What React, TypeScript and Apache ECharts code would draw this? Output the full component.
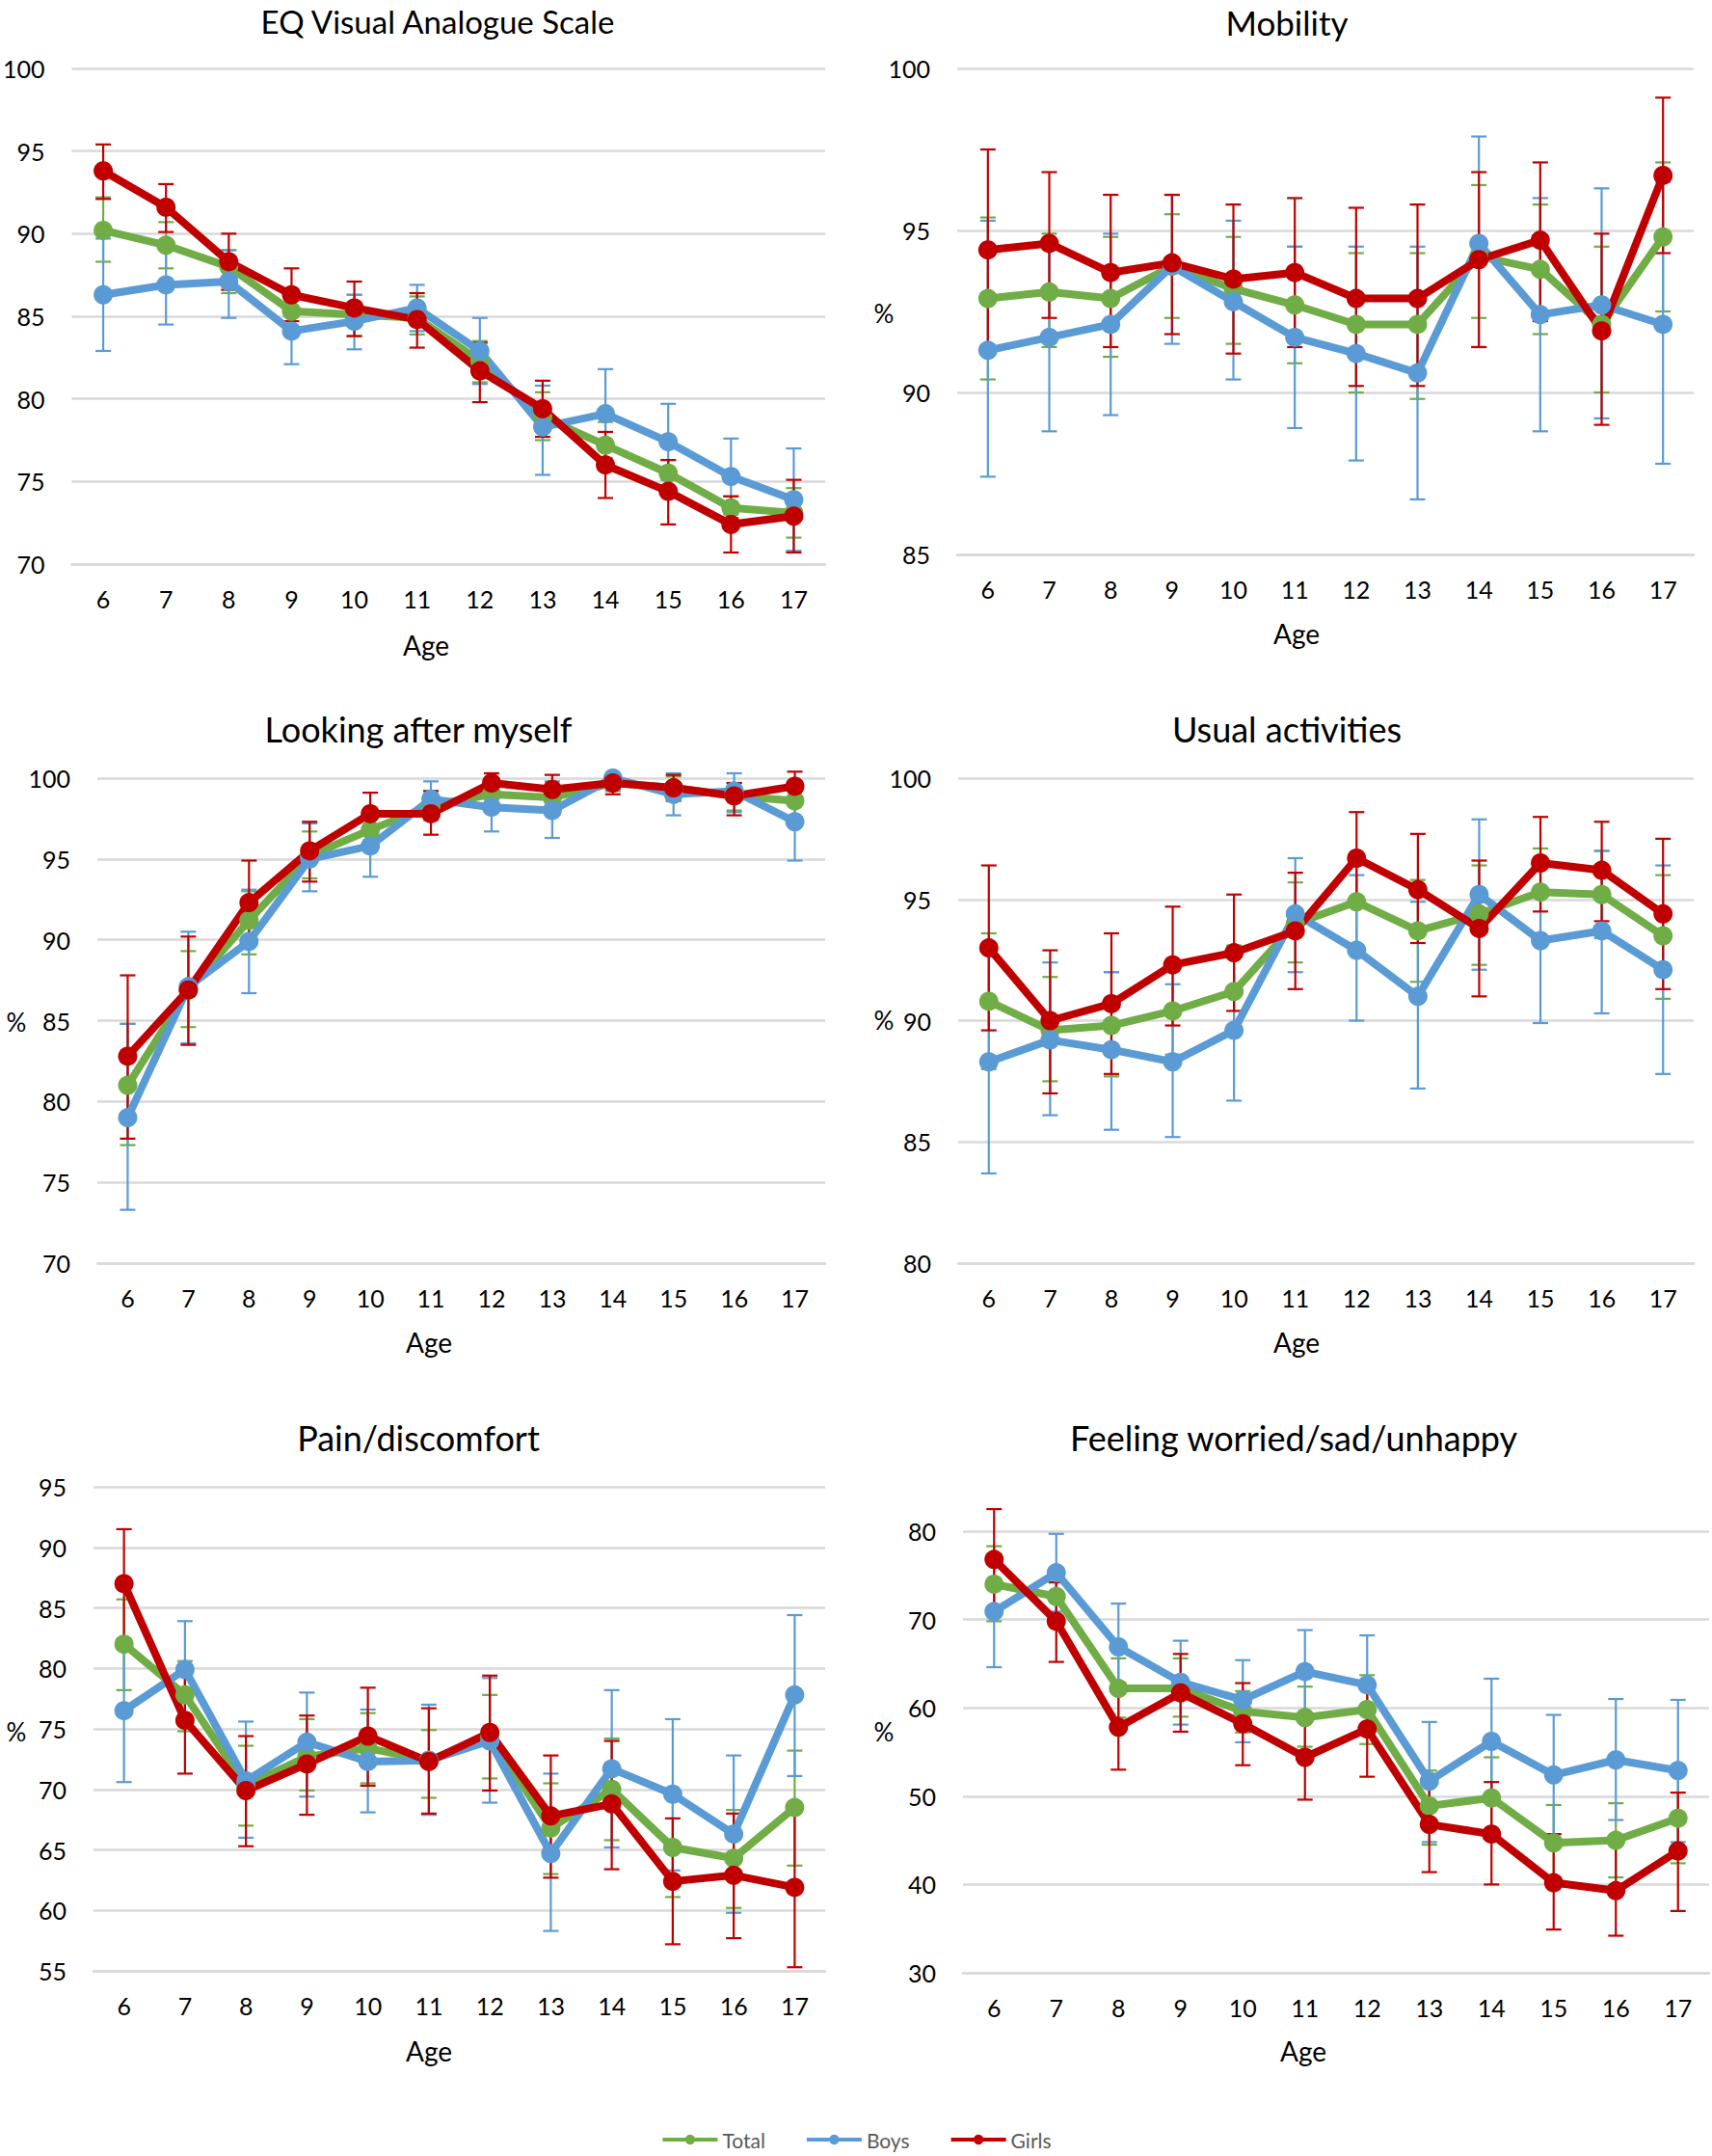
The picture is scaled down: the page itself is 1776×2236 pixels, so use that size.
import React, { useEffect, useRef } from "react";
import * as echarts from "echarts";

const ages = ["6", "7", "8", "9", "10", "11", "12", "13", "14", "15", "16", "17"];
const seriesNames = ["Total", "Boys", "Girls"];
const seriesColors = ["#70AD47", "#5B9BD5", "#C00000"];

// EQ Visual Analogue Scale
const eqTotal = [90.2, 89.3, 88.0, 85.3, 85.1, 84.9, 82.3, 78.9, 77.2, 75.5, 73.4, 73.1];
const eqTotalLo = [88.3, 87.9, 86.4, 84.0, 83.8, 83.9, 81.0, 77.5, 75.8, 74.6, 72.8, 71.6];
const eqTotalHi = [92.2, 90.7, 89.0, 86.6, 86.3, 86.2, 83.5, 80.4, 78.6, 76.3, 74.1, 74.6];
const eqBoys = [86.3, 86.9, 87.1, 84.1, 84.7, 85.5, 82.9, 78.3, 79.1, 77.4, 75.3, 73.9];
const eqBoysLo = [82.9, 84.5, 84.9, 82.1, 83.0, 84.1, 80.9, 75.4, 76.4, 75.1, 73.0, 70.8];
const eqBoysHi = [89.7, 89.3, 89.0, 86.1, 86.3, 86.9, 84.9, 80.8, 81.8, 79.7, 77.6, 77.0];
const eqGirls = [93.8, 91.6, 88.3, 86.3, 85.5, 84.8, 81.7, 79.4, 76.0, 74.4, 72.4, 72.9];
const eqGirlsLo = [92.1, 90.1, 86.6, 84.7, 83.8, 83.1, 79.8, 77.7, 74.0, 72.4, 70.7, 70.7];
const eqGirlsHi = [95.4, 93.0, 90.0, 87.9, 87.1, 86.4, 83.4, 81.1, 78.0, 76.3, 74.1, 75.1];

// Mobility
const mobTotal = [92.9, 93.1, 92.9, 93.9, 93.2, 92.7, 92.1, 92.1, 94.2, 93.8, 92.1, 94.8];
const mobTotalLo = [90.4, 91.4, 91.1, 92.3, 91.5, 90.9, 90.0, 89.8, 92.3, 91.8, 90.0, 92.5];
const mobTotalHi = [95.4, 94.9, 94.8, 95.5, 94.8, 94.5, 94.3, 94.3, 96.4, 95.8, 94.5, 97.1];
const mobBoys = [91.3, 91.7, 92.1, 93.9, 92.8, 91.7, 91.2, 90.6, 94.6, 92.4, 92.7, 92.1];
const mobBoysLo = [87.4, 88.8, 89.3, 91.5, 90.4, 88.9, 87.9, 86.7, 91.4, 88.8, 89.2, 87.8];
const mobBoysHi = [95.3, 94.5, 94.9, 96.1, 95.3, 94.5, 94.5, 94.5, 97.9, 96.0, 96.3, 96.5];
const mobGirls = [94.4, 94.6, 93.7, 94.0, 93.5, 93.7, 92.9, 92.9, 94.1, 94.7, 91.9, 96.7];
const mobGirlsLo = [91.3, 92.3, 91.4, 91.8, 91.2, 91.4, 90.2, 90.2, 91.4, 92.2, 89.0, 94.3];
const mobGirlsHi = [97.5, 96.8, 96.1, 96.1, 95.8, 96.0, 95.7, 95.8, 96.8, 97.1, 94.9, 99.1];

// Looking after myself
const lookTotal = [81.0, 86.9, 91.2, 95.2, 96.8, 98.3, 99.0, 98.8, 99.7, 99.4, 98.9, 98.6];
const lookTotalLo = [77.3, 84.6, 89.1, 93.8, 95.7, 97.4, 98.5, 98.1, 99.3, 98.8, 98.0, 97.6];
const lookTotalHi = [84.8, 89.3, 93.0, 96.7, 97.9, 99.2, 99.5, 99.5, 100.1, 100.1, 99.7, 99.5];
const lookBoys = [79.0, 87.1, 89.9, 95.0, 95.8, 98.7, 98.2, 98.0, 100.0, 99.0, 99.2, 97.3];
const lookBoysLo = [73.3, 83.6, 86.7, 93.0, 93.9, 97.5, 96.7, 96.3, 99.2, 97.7, 97.9, 94.9];
const lookBoysHi = [84.8, 90.5, 93.1, 97.2, 97.7, 99.8, 99.7, 99.8, 100.0, 100.3, 100.3, 99.8];
const lookGirls = [82.8, 86.9, 92.3, 95.5, 97.8, 97.8, 99.7, 99.3, 99.7, 99.4, 98.9, 99.5];
const lookGirlsLo = [77.7, 83.5, 89.7, 93.6, 96.5, 96.5, 99.1, 98.5, 99.0, 98.6, 97.7, 98.6];
const lookGirlsHi = [87.8, 90.2, 94.9, 97.3, 99.1, 99.2, 100.3, 100.2, 100.1, 100.2, 99.7, 100.4];

// Usual activities
const usTotal = [90.8, 89.6, 89.8, 90.4, 91.2, 94.0, 94.9, 93.7, 94.4, 95.3, 95.2, 93.5];
const usTotalLo = [88.0, 87.5, 87.7, 88.6, 89.4, 92.4, 93.1, 91.6, 92.3, 93.5, 93.4, 90.9];
const usTotalHi = [93.6, 91.8, 92.0, 92.3, 93.1, 95.7, 96.7, 95.8, 96.4, 97.1, 97.0, 96.0];
const usBoys = [88.3, 89.2, 88.8, 88.3, 89.6, 94.4, 92.9, 91.0, 95.2, 93.3, 93.7, 92.1];
const usBoysLo = [83.7, 86.1, 85.5, 85.2, 86.7, 92.0, 90.0, 87.2, 92.1, 89.9, 90.3, 87.8];
const usBoysHi = [92.9, 92.4, 92.0, 91.5, 93.0, 96.7, 96.0, 94.9, 98.3, 96.5, 97.0, 96.4];
const usGirls = [93.0, 90.0, 90.7, 92.3, 92.8, 93.7, 96.7, 95.4, 93.8, 96.5, 96.2, 94.4];
const usGirlsLo = [89.6, 87.0, 87.8, 89.8, 90.4, 91.3, 94.8, 93.2, 91.0, 94.5, 94.1, 91.3];
const usGirlsHi = [96.4, 92.9, 93.6, 94.7, 95.2, 96.1, 98.6, 97.7, 96.6, 98.4, 98.2, 97.5];

// Pain/discomfort
const painTotal = [82.0, 77.8, 70.3, 72.7, 73.4, 72.4, 74.4, 66.8, 70.0, 65.2, 64.3, 68.5];
const painTotalLo = [78.2, 74.8, 67.0, 69.9, 70.5, 69.3, 70.9, 63.0, 65.8, 61.1, 60.2, 63.7];
const painTotalHi = [85.7, 80.6, 73.6, 75.8, 76.3, 74.9, 77.8, 70.5, 74.2, 69.2, 68.3, 73.2];
const painBoys = [76.5, 79.9, 70.7, 73.9, 72.3, 72.4, 74.0, 64.7, 71.7, 69.6, 66.3, 77.8];
const painBoysLo = [70.6, 76.0, 66.0, 69.4, 68.1, 67.9, 68.9, 58.3, 65.2, 63.3, 59.8, 71.1];
const painBoysHi = [82.4, 83.9, 75.6, 78.0, 76.6, 77.0, 79.2, 71.3, 78.2, 75.8, 72.8, 84.4];
const painGirls = [87.0, 75.7, 69.9, 72.1, 74.4, 72.3, 74.7, 67.8, 68.8, 62.4, 62.9, 61.9];
const painGirlsLo = [82.4, 71.3, 65.3, 67.9, 70.3, 68.0, 69.9, 62.7, 63.4, 57.2, 57.7, 55.3];
const painGirlsHi = [91.5, 79.9, 74.4, 76.1, 78.4, 76.7, 79.4, 72.8, 74.0, 67.6, 68.0, 68.4];

// Feeling worried/sad/unhappy
const feelTotal = [74.0, 72.6, 62.2, 62.2, 59.6, 58.9, 59.8, 48.9, 49.8, 44.7, 45.0, 47.5];
const feelTotalLo = [69.8, 70.0, 58.9, 59.0, 57.2, 55.6, 55.9, 44.5, 45.2, 40.8, 40.8, 42.4];
const feelTotalHi = [78.3, 75.1, 65.6, 65.6, 61.9, 62.4, 63.7, 52.9, 54.4, 49.0, 49.2, 52.7];
const feelBoys = [70.9, 75.3, 66.9, 62.9, 60.9, 64.1, 62.6, 51.7, 56.2, 52.4, 54.1, 52.9];
const feelBoysLo = [64.6, 70.9, 61.9, 58.1, 56.1, 59.4, 57.2, 44.8, 49.4, 45.7, 47.3, 44.8];
const feelBoysHi = [77.3, 79.7, 71.8, 67.6, 65.4, 68.8, 68.2, 58.4, 63.3, 59.2, 61.0, 60.9];
const feelGirls = [76.8, 69.8, 57.8, 61.7, 58.2, 54.4, 57.6, 46.8, 45.7, 40.2, 39.3, 43.8];
const feelGirlsLo = [71.2, 65.2, 53.0, 57.3, 53.5, 49.6, 52.2, 41.4, 40.0, 34.9, 34.2, 37.0];
const feelGirlsHi = [82.5, 74.2, 62.8, 66.1, 62.8, 59.2, 62.8, 52.1, 51.6, 45.7, 44.7, 50.4];

const panelTitles = [
  "EQ Visual Analogue Scale",
  "Mobility",
  "Looking after myself",
  "Usual activities",
  "Pain/discomfort",
  "Feeling worried/sad/unhappy",
];
const yMins = [70, 85, 70, 80, 55, 30];
const yMaxs = [100, 100, 100, 100, 95, 80];
const yIntervals = [5, 5, 5, 5, 5, 10];
const showPercent = [false, true, true, true, true, true];

const panelData = [
  [[eqTotal, eqTotalLo, eqTotalHi], [eqBoys, eqBoysLo, eqBoysHi], [eqGirls, eqGirlsLo, eqGirlsHi]],
  [[mobTotal, mobTotalLo, mobTotalHi], [mobBoys, mobBoysLo, mobBoysHi], [mobGirls, mobGirlsLo, mobGirlsHi]],
  [[lookTotal, lookTotalLo, lookTotalHi], [lookBoys, lookBoysLo, lookBoysHi], [lookGirls, lookGirlsLo, lookGirlsHi]],
  [[usTotal, usTotalLo, usTotalHi], [usBoys, usBoysLo, usBoysHi], [usGirls, usGirlsLo, usGirlsHi]],
  [[painTotal, painTotalLo, painTotalHi], [painBoys, painBoysLo, painBoysHi], [painGirls, painGirlsLo, painGirlsHi]],
  [[feelTotal, feelTotalLo, feelTotalHi], [feelBoys, feelBoysLo, feelBoysHi], [feelGirls, feelGirlsLo, feelGirlsHi]],
];

// layout (pixels)
const grids = [
  { left: 71, top: 71, width: 785, height: 514 },
  { left: 993, top: 71, width: 764, height: 504 },
  { left: 101, top: 807, width: 755, height: 503 },
  { left: 994, top: 807, width: 763, height: 503 },
  { left: 97, top: 1542, width: 759, height: 502 },
  { left: 999, top: 1588, width: 774, height: 458 },
];
const titlePos = [[454, 22], [1335, 23], [434, 756], [1335, 756], [434, 1491], [1342, 1491]];
const titleSizes = [33, 35, 36, 36, 36, 36];
const agePos = [[442, 669], [1345, 657], [445, 1392], [1345, 1392], [445, 2127], [1352, 2127]];
const pctPos = [[0, 0], [917, 325], [17, 1060], [917, 1058], [17, 1796], [917, 1796]];

const FONT = "Lato, 'Open Sans', sans-serif";

export default function App() {
  const ref = useRef<HTMLDivElement>(null);
  useEffect(() => {
    document.body.style.margin = "0";
    if (!ref.current) return;
    const chart = echarts.init(ref.current, null, { renderer: "svg" });

    const xAxis: any[] = [];
    const yAxis: any[] = [];
    const series: any[] = [];
    const graphic: any[] = [];

    grids.forEach((g, p) => {
      xAxis.push({
        type: "category",
        gridIndex: p,
        data: ages,
        boundaryGap: true,
        axisLine: { show: true, lineStyle: { color: "#D9D9D9", width: 2.5 } },
        axisTick: { show: false },
        axisLabel: { color: "#000", fontSize: 25, fontFamily: FONT, margin: 23 },
      });
      yAxis.push({
        type: "value",
        gridIndex: p,
        min: yMins[p],
        max: yMaxs[p],
        interval: yIntervals[p],
        axisLine: { show: false },
        axisTick: { show: false },
        splitLine: { lineStyle: { color: "#D9D9D9", width: 2.5 } },
        axisLabel: { color: "#000", fontSize: 25, fontFamily: FONT, margin: 28 },
      });

      panelData[p].forEach((grp, s) => {
        const [vals, lo, hi] = grp;
        const color = seriesColors[s];
        series.push({
          type: "line",
          name: seriesNames[s],
          xAxisIndex: p,
          yAxisIndex: p,
          data: vals,
          symbol: "circle",
          symbolSize: 20,
          showSymbol: true,
          lineStyle: { color, width: 8 },
          itemStyle: { color },
          emphasis: { disabled: true },
        });
        series.push({
          type: "custom",
          name: seriesNames[s] + " 95% CI",
          xAxisIndex: p,
          yAxisIndex: p,
          data: ages.map((_, i) => [i, lo[i], hi[i]]),
          encode: { x: 0, y: [1, 2] },
          clip: false,
          renderItem: (params: any, api: any) => {
            const xi = api.value(0);
            const a = api.coord([xi, api.value(1)]);
            const b = api.coord([xi, api.value(2)]);
            const hw = 8;
            const style = { stroke: color, lineWidth: 2.2 };
            return {
              type: "group",
              children: [
                { type: "line", shape: { x1: a[0], y1: a[1], x2: b[0], y2: b[1] }, style },
                { type: "line", shape: { x1: a[0] - hw, y1: a[1], x2: a[0] + hw, y2: a[1] }, style },
                { type: "line", shape: { x1: b[0] - hw, y1: b[1], x2: b[0] + hw, y2: b[1] }, style },
              ],
            };
          },
        });
      });

      graphic.push({
        type: "text",
        x: titlePos[p][0],
        y: titlePos[p][1],
        style: {
          text: panelTitles[p],
          fill: "#000",
          font: `${titleSizes[p]}px ${FONT}`,
          textAlign: "center",
          textVerticalAlign: "middle",
        },
      });
      graphic.push({
        type: "text",
        x: agePos[p][0],
        y: agePos[p][1],
        style: {
          text: "Age",
          fill: "#000",
          font: `28px ${FONT}`,
          textAlign: "center",
          textVerticalAlign: "middle",
        },
      });
      if (showPercent[p]) {
        graphic.push({
          type: "text",
          x: pctPos[p][0],
          y: pctPos[p][1],
          style: {
            text: "%",
            fill: "#000",
            font: `26px ${FONT}`,
            textAlign: "center",
            textVerticalAlign: "middle",
          },
        });
      }
    });

    chart.setOption({
      animation: false,
      backgroundColor: "#fff",
      grid: grids.map((g) => ({ ...g, containLabel: false })),
      xAxis,
      yAxis,
      series,
      graphic,
      legend: {
        data: seriesNames,
        left: "center",
        top: 2206,
        padding: 0,
        itemWidth: 57,
        itemHeight: 13,
        itemGap: 41,
        lineStyle: { width: 4 },
        textStyle: { color: "#595959", fontSize: 21, fontFamily: FONT, lineHeight: 26 },
      },
    });
    return () => chart.dispose();
  }, []);
  return <div ref={ref} style={{ width: 1776, height: 2236 }} />;
}
